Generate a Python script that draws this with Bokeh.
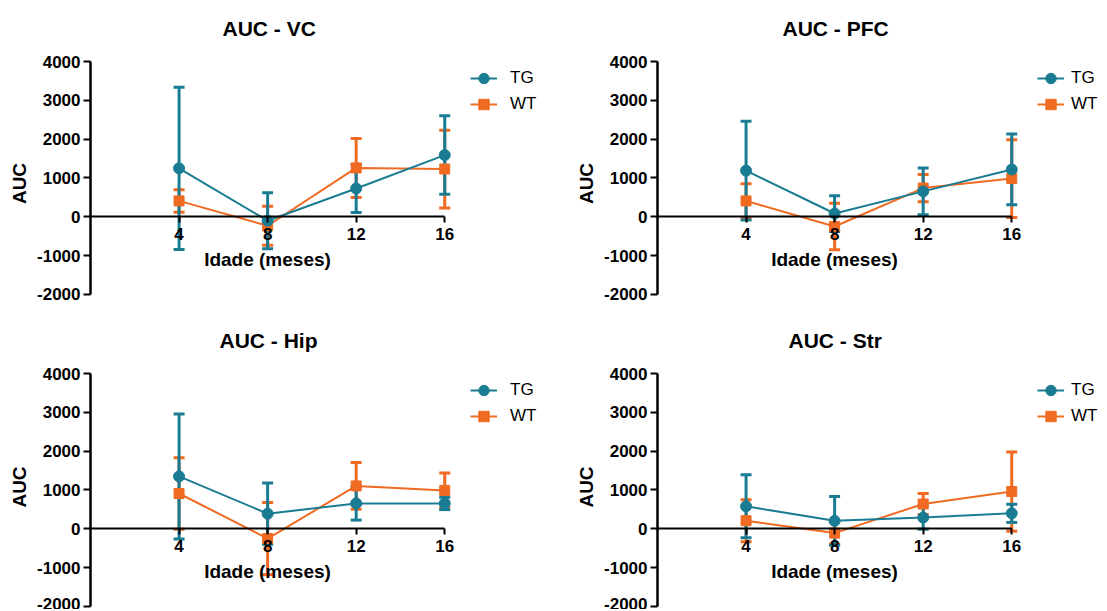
from bokeh.plotting import figure
from bokeh.models import (ColumnDataSource, Whisker, TeeHead, Legend, LegendItem,
                          FixedTicker, Range1d)
from bokeh.layouts import column, row
from bokeh.embed import file_html
from bokeh.resources import INLINE

# ---------------- data ----------------
months = [4, 8, 12, 16]
x_tick_labels = ["4", "8", "12", "16"]
y_ticks = [-2000, -1000, 0, 1000, 2000, 3000, 4000]
y_tick_labels = ["-2000", "-1000", "0", "1000", "2000", "3000", "4000"]
series_names = ["TG", "WT"]

vc_tg_mean = [1250, -100, 730, 1590]
vc_tg_err = [2090, 720, 620, 1010]
vc_wt_mean = [410, -230, 1260, 1230]
vc_wt_err = [290, 500, 760, 1000]

pfc_tg_mean = [1190, 85, 655, 1220]
pfc_tg_err = [1270, 460, 600, 910]
pfc_wt_mean = [410, -250, 740, 985]
pfc_wt_err = [440, 600, 350, 1000]

hip_tg_mean = [1350, 390, 655, 655]
hip_tg_err = [1610, 790, 430, 160]
hip_wt_mean = [910, -250, 1105, 990]
hip_wt_err = [920, 930, 600, 450]

str_tg_mean = [580, 205, 290, 400]
str_tg_err = [810, 630, 300, 235]
str_wt_mean = [210, -110, 640, 960]
str_wt_err = [540, 280, 270, 1020]

TEAL = "#1a7c92"
ORANGE = "#f06a22"
FONT = "Liberation Sans"


def panel(title, tg_m, tg_e, wt_m, wt_e, left, frame_w, frame_h, top,
          title_off, title_standoff, leg_standoff):
    k = 38.83 / 1000.0          # px per data unit (y)
    ppu = 22.14                  # px per month (x)
    y_top = 4000 + 9 / k
    y_bot = y_top - frame_h / k
    p = figure(frame_width=frame_w, frame_height=frame_h,
               x_range=Range1d(0, frame_w / ppu), y_range=Range1d(y_bot, y_top),
               output_backend="svg", toolbar_location=None,
               min_border_left=left, min_border_right=0,
               min_border_top=top, min_border_bottom=0)
    p.outline_line_color = None
    p.grid.visible = False
    p.background_fill_color = "white"
    p.border_fill_color = "white"

    p.title.text = title
    p.title.align = "left"
    p.title.vertical_align = "middle"
    p.title.offset = title_off
    p.title.standoff = title_standoff
    p.title.text_font = FONT
    p.title.text_font_size = "21px"
    p.title.text_font_style = "bold"
    p.title.text_color = "black"

    xa = p.xaxis[0]
    xa.fixed_location = 0
    xa.bounds = (0, 16)
    xa.ticker = FixedTicker(ticks=months)
    xa.major_label_overrides = {m: s for m, s in zip(months, x_tick_labels)}
    xa.minor_tick_line_color = None
    xa.major_tick_in = 0
    xa.major_tick_out = 6
    xa.axis_line_width = 2
    xa.major_tick_line_width = 2
    xa.axis_line_color = "black"
    xa.major_tick_line_color = "black"
    xa.major_label_text_font = FONT
    xa.major_label_text_font_size = "17px"
    xa.major_label_text_font_style = "bold"
    xa.major_label_text_color = "black"
    xa.major_label_standoff = 5
    xa.axis_label = "Idade (meses)"
    xa.axis_label_text_font = FONT
    xa.axis_label_text_font_size = "19px"
    xa.axis_label_text_font_style = "bold"
    xa.axis_label_text_color = "black"
    xa.axis_label_standoff = 6

    ya = p.yaxis[0]
    ya.bounds = (-2000, 4000)
    ya.ticker = FixedTicker(ticks=y_ticks)
    ya.major_label_overrides = {t: s for t, s in zip(y_ticks, y_tick_labels)}
    ya.minor_tick_line_color = None
    ya.major_tick_in = 0
    ya.major_tick_out = 7
    ya.axis_line_width = 2.5
    ya.major_tick_line_width = 2
    ya.axis_line_color = "black"
    ya.major_tick_line_color = "black"
    ya.major_label_text_font = FONT
    ya.major_label_text_font_size = "17px"
    ya.major_label_text_font_style = "bold"
    ya.major_label_text_color = "black"
    ya.major_label_standoff = 3
    ya.axis_label = "AUC"
    ya.axis_label_text_font = FONT
    ya.axis_label_text_font_size = "19px"
    ya.axis_label_text_font_style = "bold"
    ya.axis_label_text_color = "black"
    ya.axis_label_standoff = 4

    items = []
    for name, m, e, color, marker, msize in (
            ("WT", wt_m, wt_e, ORANGE, "square", 10),
            ("TG", tg_m, tg_e, TEAL, "circle", 11)):
        src = ColumnDataSource(dict(x=months, mean=m,
                                    upper=[a + b for a, b in zip(m, e)],
                                    lower=[a - b for a, b in zip(m, e)]))
        ln = p.line("x", "mean", source=src, line_color=color, line_width=2)
        w = Whisker(base="x", upper="upper", lower="lower", source=src,
                    line_color=color, line_width=3,
                    upper_head=TeeHead(size=11, line_color=color, line_width=3),
                    lower_head=TeeHead(size=11, line_color=color, line_width=3))
        p.add_layout(w)
        sc = p.scatter("x", "mean", source=src, marker=marker, size=msize,
                       fill_color=color, line_color=color)
        items.append(LegendItem(label=name, renderers=[ln, sc]))
    items = items[::-1]

    leg = Legend(items=items, location=(380, frame_h - 13 - 52))
    leg.label_text_font = FONT
    leg.label_text_font_size = "17px"
    leg.label_text_color = "black"
    leg.glyph_width = 27
    leg.glyph_height = 26
    leg.label_height = 26
    leg.label_standoff = leg_standoff
    leg.spacing = 0
    leg.padding = 0
    leg.margin = 0
    leg.border_line_alpha = 0
    leg.background_fill_alpha = 0
    p.add_layout(leg)
    return p


top_h = 262
bot_h = 245
p1 = panel("AUC - VC", vc_tg_mean, vc_tg_err, vc_wt_mean, vc_wt_err,
           90, 467, top_h, 52, 132, 24, 13)
p2 = panel("AUC - PFC", pfc_tg_mean, pfc_tg_err, pfc_wt_mean, pfc_wt_err,
           100, 448, top_h, 52, 125, 24, 7)
p3 = panel("AUC - Hip", hip_tg_mean, hip_tg_err, hip_wt_mean, hip_wt_err,
           90, 467, bot_h, 50, 129, 23, 13)
p4 = panel("AUC - Str", str_tg_mean, str_tg_err, str_wt_mean, str_wt_err,
           100, 448, bot_h, 50, 131, 23, 7)

layout = column(row(p1, p2), row(p3, p4))
open("out.html", "w").write(file_html(layout, INLINE))
